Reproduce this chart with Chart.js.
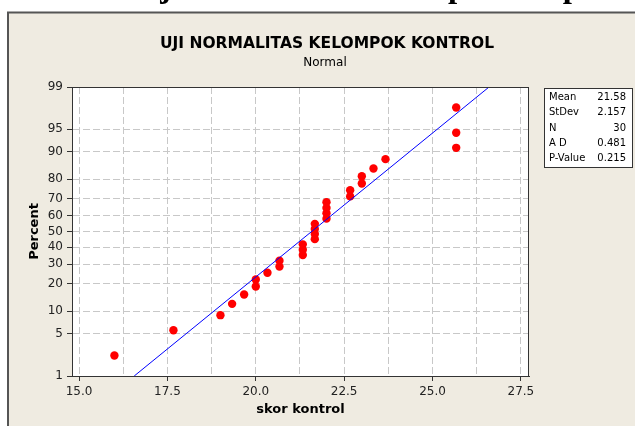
<!DOCTYPE html>
<html>
<head>
<meta charset="utf-8">
<script src="https://cdn.jsdelivr.net/npm/chart.js@4.4.0/dist/chart.umd.min.js"></script>
<style>
  html, body { margin: 0; padding: 0; background: #fff; overflow: hidden; }
  #wrap { width: 635px; height: 426px; }
</style>
</head>
<body>
<div id="wrap"><canvas id="c" width="635" height="426"></canvas></div>
<script>
// skor kontrol, one entry per student (sorted), and its plotted percent
var scores = [16.0, 17.67, 19.0, 19.33, 19.67, 20.0, 20.0, 20.33, 20.67, 20.67,
  21.33, 21.33, 21.33, 21.67, 21.67, 21.67, 21.67, 22.0, 22.0, 22.0,
  22.0, 22.67, 22.67, 23.0, 23.0, 23.33, 23.67, 25.67, 25.67, 25.67];
var percents = [2.3, 5.6, 8.9, 12.2, 15.5, 18.8, 22.0, 25.3, 28.6, 31.9,
  35.2, 38.5, 41.8, 45.1, 48.4, 51.6, 54.9, 58.2, 61.5, 64.8,
  68.1, 71.4, 74.7, 78.0, 81.3, 84.5, 87.8, 91.1, 94.4, 97.7];

// fitted normal line (ends at 1% and 99%)
var fitX = [16.56, 26.60];
var fitPct = [1, 99];

var percentTicks = [1, 5, 10, 20, 30, 40, 50, 60, 70, 80, 90, 95, 99];
var xTickValues = [15, 16.25, 17.5, 18.75, 20, 21.25, 22.5, 23.75, 25, 26.25, 27.5];
var xTickLabels = ['15.0', '', '17.5', '', '20.0', '', '22.5', '', '25.0', '', '27.5'];

var statLabels = ['Mean', 'StDev', 'N', 'A D', 'P-Value'];
var statValues = ['21.58', '2.157', '30', '0.481', '0.215'];

var chartTitle = 'UJI NORMALITAS KELOMPOK KONTROL';
var chartSubtitle = 'Normal';
var pageCaption = 'Gambar 4.2 Uji Normalitas Kelompok Eksperimen';

var BEIGE = '#EFEBE1';
var DARK = '#333333';
var FONT = '"DejaVu Sans", Verdana, sans-serif';

// inverse standard normal CDF (Acklam), used for the probability axis
function probit(p) {
  var a = [-3.969683028665376e+01, 2.209460984245205e+02, -2.759285104469687e+02, 1.383577518672690e+02, -3.066479806614716e+01, 2.506628277459239e+00];
  var b = [-5.447609879822406e+01, 1.615858368580409e+02, -1.556989798598866e+02, 6.680131188771972e+01, -1.328068155833025e+01];
  var c = [-7.784894002430293e-03, -3.223964580411365e-01, -2.400758277161838e+00, -2.549732539343734e+00, 4.374664141464968e+00, 2.938163982698783e+00];
  var d = [7.784695709041462e-03, 3.224671290700398e-01, 2.445134137142996e+00, 3.754408661907416e+00];
  var pl = 0.02425, q, r;
  if (p < pl) {
    q = Math.sqrt(-2 * Math.log(p));
    return (((((c[0]*q+c[1])*q+c[2])*q+c[3])*q+c[4])*q+c[5]) / ((((d[0]*q+d[1])*q+d[2])*q+d[3])*q+1);
  }
  if (p > 1 - pl) {
    q = Math.sqrt(-2 * Math.log(1 - p));
    return -(((((c[0]*q+c[1])*q+c[2])*q+c[3])*q+c[4])*q+c[5]) / ((((d[0]*q+d[1])*q+d[2])*q+d[3])*q+1);
  }
  q = p - 0.5; r = q * q;
  return (((((a[0]*r+a[1])*r+a[2])*r+a[3])*r+a[4])*r+a[5])*q / (((((b[0]*r+b[1])*r+b[2])*r+b[3])*r+b[4])*r+1);
}

function toPoints(xs, pcts) {
  return xs.map(function (x, i) { return { x: x, y: probit(pcts[i] / 100) }; });
}

var backdrop = {
  id: 'backdrop',
  beforeDraw: function (chart) {
    var ctx = chart.ctx, a = chart.chartArea;
    ctx.save();
    ctx.fillStyle = '#fff';
    ctx.fillRect(0, 0, chart.width, chart.height);
    // clipped document caption above the figure
    ctx.font = 'bold 33px "Liberation Serif", "Times New Roman", serif';
    ctx.fillStyle = '#000';
    ctx.textBaseline = 'alphabetic';
    ctx.textAlign = 'left';
    var x0 = 448 - ctx.measureText('Gambar 4.2 Uji Normalitas Kelom').width;
    ctx.fillText(pageCaption, x0, -3);
    // figure panel
    ctx.fillStyle = BEIGE;
    ctx.fillRect(8, 12, chart.width - 8, chart.height - 12);
    ctx.strokeStyle = '#555';
    ctx.lineWidth = 2;
    ctx.beginPath();
    ctx.moveTo(8, chart.height);
    ctx.lineTo(8, 12.5);
    ctx.lineTo(chart.width, 12.5);
    ctx.stroke();
    // plot area
    ctx.fillStyle = '#fff';
    ctx.fillRect(a.left, a.top, a.right - a.left, a.bottom - a.top);
    ctx.restore();
  },
  afterDraw: function (chart) {
    var ctx = chart.ctx, a = chart.chartArea;
    ctx.save();
    ctx.strokeStyle = DARK;
    ctx.lineWidth = 1;
    ctx.strokeRect(a.left + 0.5, a.top + 0.5, a.right - a.left - 1, a.bottom - a.top);
    // titles
    ctx.fillStyle = '#000';
    ctx.textAlign = 'center';
    ctx.textBaseline = 'alphabetic';
    ctx.font = 'bold 15.5px ' + FONT;
    ctx.fillText(chartTitle, 327, 48);
    ctx.font = '12px ' + FONT;
    ctx.fillText(chartSubtitle, 325, 65.5);
    // stats box
    ctx.fillStyle = '#fff';
    ctx.fillRect(544, 88, 89, 80);
    ctx.strokeStyle = DARK;
    ctx.strokeRect(544.5, 88.5, 88, 79);
    ctx.fillStyle = '#000';
    ctx.font = '10px ' + FONT;
    ctx.textBaseline = 'middle';
    for (var i = 0; i < statLabels.length; i++) {
      var y = 97.5 + i * 15.3;
      ctx.textAlign = 'left';
      ctx.fillText(statLabels[i], 549, y);
      ctx.textAlign = 'right';
      ctx.fillText(statValues[i], 626, y);
    }
    ctx.restore();
  }
};

new Chart(document.getElementById('c'), {
  type: 'scatter',
  data: {
    datasets: [
      {
        type: 'line',
        label: 'Fit',
        data: toPoints(fitX, fitPct),
        borderColor: '#0000FF',
        borderWidth: 1,
        pointRadius: 0,
        fill: false,
        order: 0
      },
      {
        label: 'skor kontrol',
        data: toPoints(scores, percents),
        backgroundColor: '#FF0000',
        borderColor: '#FF0000',
        borderWidth: 0,
        pointRadius: 4.2,
        order: 1
      }
    ]
  },
  options: {
    responsive: false,
    animation: false,
    devicePixelRatio: 1,
    layout: { padding: { top: 87, left: 0, right: 106, bottom: 0 } },
    plugins: {
      legend: { display: false },
      tooltip: { enabled: false }
    },
    scales: {
      x: {
        type: 'linear',
        min: 14.8,
        max: 27.73,
        afterBuildTicks: function (s) { s.ticks = xTickValues.map(function (v) { return { value: v }; }); },
        afterFit: function (s) { s.height = 50; },
        grid: {
          color: '#C8C8C8', lineWidth: 1, drawTicks: true, tickLength: 5,
          tickColor: function (ctx) { return xTickLabels[ctx.index] ? DARK : 'rgba(0,0,0,0)'; },
          tickWidth: 1, tickBorderDash: []
        },
        border: { display: true, color: DARK, width: 1, dash: [7, 3] },
        ticks: {
          autoSkip: false, maxRotation: 0, padding: 4, color: '#222',
          font: { family: FONT, size: 12 },
          callback: function (v, i) { return xTickLabels[i]; }
        },
        title: {
          display: true, text: 'skor kontrol', color: '#000',
          font: { family: FONT, size: 13, weight: 'bold' },
          padding: { top: 0, bottom: 9 }
        }
      },
      y: {
        type: 'linear',
        min: probit(0.01),
        max: probit(0.99),
        afterBuildTicks: function (s) { s.ticks = percentTicks.map(function (p) { return { value: probit(p / 100) }; }); },
        afterFit: function (s) { s.width = 72; },
        grid: {
          color: '#C8C8C8', lineWidth: 1, drawTicks: true, tickLength: 5,
          tickColor: DARK, tickWidth: 1, tickBorderDash: []
        },
        border: { display: true, color: DARK, width: 1, dash: [7, 3] },
        ticks: {
          autoSkip: false, padding: 4, color: '#222',
          font: { family: FONT, size: 12 },
          callback: function (v, i) { return String(percentTicks[i]); }
        },
        title: {
          display: true, text: 'Percent', color: '#000',
          font: { family: FONT, size: 13, weight: 'bold' },
          padding: { top: 27, bottom: 0 }
        }
      }
    }
  },
  plugins: [backdrop]
});
</script>
</body>
</html>
